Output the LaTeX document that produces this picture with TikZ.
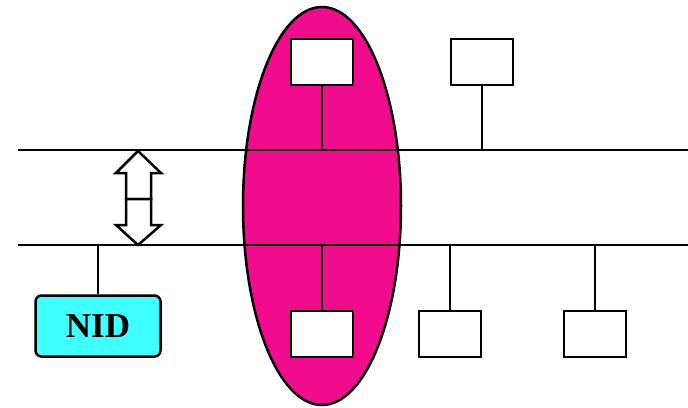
\documentclass[tikz,border=0pt]{standalone}
\usepackage{fontspec}
\setmainfont{Liberation Serif}
\usepackage{tikz}
\usetikzlibrary{positioning, shapes, calc}

\definecolor{hotpink}{RGB}{240,12,140}
\definecolor{nidcyan}{RGB}{64,255,255}

\tikzset{
  station/.style={draw, fill=white, line width=2.5pt, minimum width=62, minimum height=46, inner sep=0pt},
  stem/.style={line width=2.5pt},
  bus/.style={line width=2.5pt},
}

\begin{document}
\begin{tikzpicture}[x=1pt, y=-1pt, line join=miter]
  \useasboundingbox (0,0) rectangle (688,407);

  % the group that spans both buses
  \node[draw, ellipse, fill=hotpink, line width=2.5pt, minimum width=158, minimum height=398, inner sep=0pt] (grp) at (322,206) {};

  % the two buses
  \coordinate (topL) at (18,150);
  \coordinate (topR) at (688,150);
  \coordinate (botL) at (18,245);
  \coordinate (botR) at (688,245);
  \draw[bus] (topL) -- (topR);
  \draw[bus] (botL) -- (botR);

  % stations
  \node[station] (s1) at (322,62) {};
  \node[station] (s2) at (482,62) {};
  \node[station] (s3) at (322,334) {};
  \node[station] (s4) at (450,334) {};
  \node[station] (s5) at (595,334) {};
  \node[draw, fill=nidcyan, rounded corners=6pt, line width=2.5pt, minimum width=125, minimum height=61, inner sep=0pt,
        font=\fontsize{35}{35}\selectfont\bfseries] (nid) at (98,326) {NID};

  % taps onto the buses
  \draw[stem] (s1.south) -- (s1.south |- topL);
  \draw[stem] (s2.south) -- (s2.south |- topL);
  \draw[stem] (s3.north) -- (s3.north |- botL);
  \draw[stem] (s4.north) -- (s4.north |- botL);
  \draw[stem] (s5.north) -- (s5.north |- botL);
  \draw[stem] (nid.north) -- (nid.north |- botL);

  % up/down arrows between the buses
  \draw[line width=2.5pt, fill=white]
    (126,199) -- (126,173) -- (116,173) -- (138,151) -- (161,173) -- (151,173) -- (151,199) -- cycle;
  \draw[line width=2.5pt, fill=white]
    (126,199) -- (126,225) -- (116,225) -- (138,245) -- (161,225) -- (151,225) -- (151,199) -- cycle;
\end{tikzpicture}
\end{document}
